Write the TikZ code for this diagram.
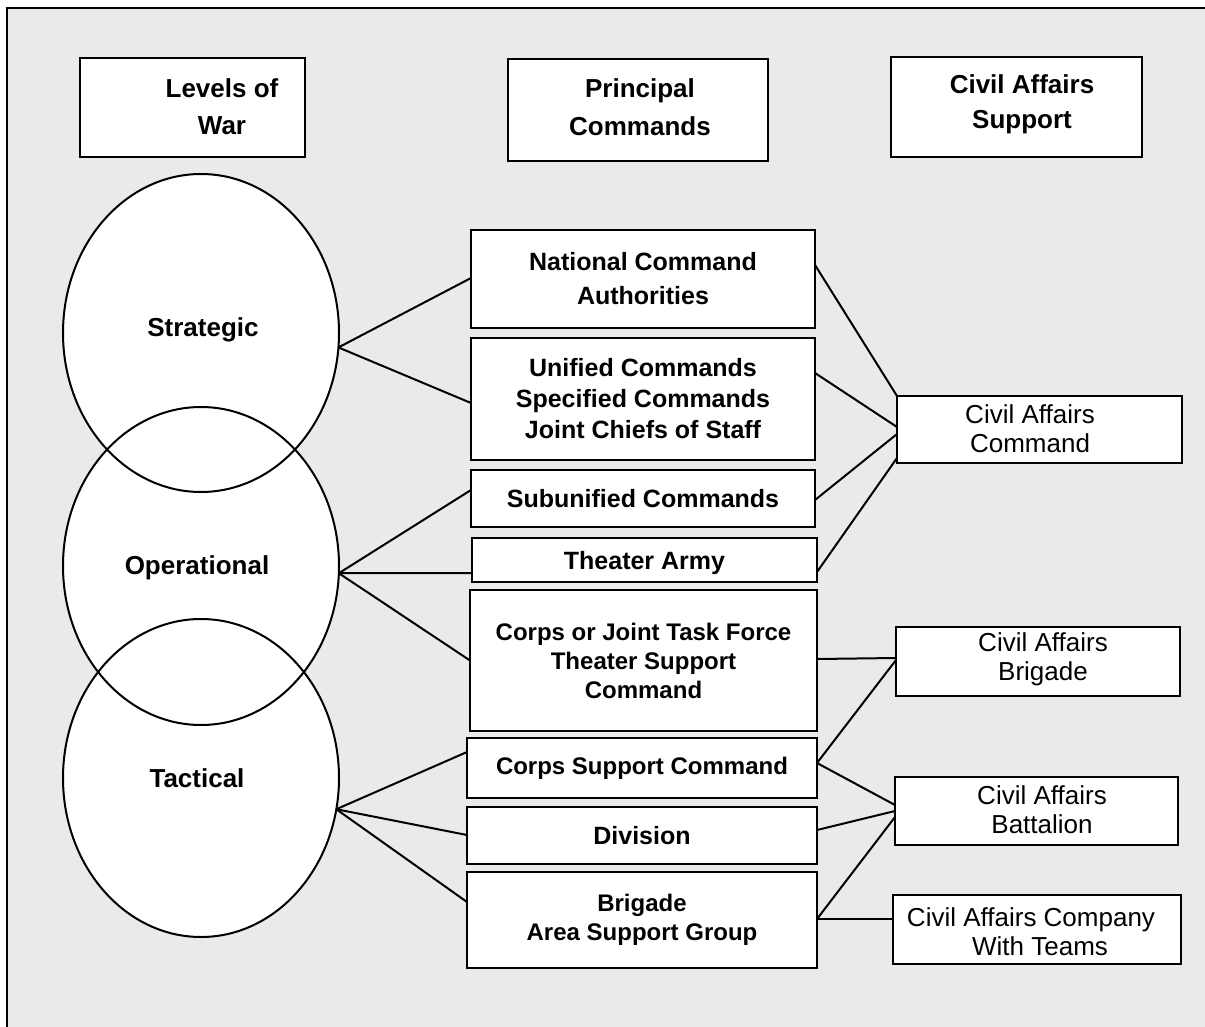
\documentclass[tikz,border=0pt]{standalone}
\usepackage{fontspec}
\setmainfont{Liberation Sans}
\usetikzlibrary{shapes.geometric}
\definecolor{panel}{RGB}{234,234,234}
\begin{document}
\begin{tikzpicture}[x=1pt,y=-1pt,
  box/.style={draw, fill=white, line width=2.6pt, rectangle, inner sep=0pt, outer sep=0pt, align=center},
  link/.style={line width=2pt},
  lvl/.style={draw, ellipse, line width=2pt, minimum width=276pt, minimum height=318pt, inner sep=0pt, outer sep=0pt,
              font=\fontsize{26}{30}\selectfont\bfseries},
  head/.style={align=center, font=\fontsize{26}{37}\selectfont\bfseries},
  cmdA/.style={font=\fontsize{25}{34}\selectfont\bfseries},
  cmdB/.style={font=\fontsize{25}{31}\selectfont\bfseries},
  cmdC/.style={font=\fontsize{24}{29}\selectfont\bfseries},
  ca/.style={align=center, font=\fontsize{26}{29}\selectfont}
]
\useasboundingbox (0,0) rectangle (1205,1027);
% panel, its frame showing on the left and top only
\fill[panel] (7,8) rectangle (1205,1027);
\draw[line width=2.6pt, line cap=rect] (7,1027) -- (7,8) -- (1205,8);

% column headings
\node[box, minimum width=225pt, minimum height=99pt] (lw) at (192.5,107.5) {};
\node[head] (lw-t) at (222,107) {Levels of\\War};
\node[box, minimum width=260pt, minimum height=102pt] (pc) at (638,110) {};
\node[head, font=\fontsize{26}{38}\selectfont\bfseries] (pc-t) at (640,107) {Principal\\Commands};
\node[box, minimum width=251pt, minimum height=100pt] (cas) at (1016.5,107) {};
\node[head, font=\fontsize{26}{35}\selectfont\bfseries] (cas-t) at (1022,104) {Civil Affairs\\Support};

% levels of war
\fill[white] (201,333) ellipse [x radius=138, y radius=159];
\fill[white] (201,566) ellipse [x radius=138, y radius=159];
\fill[white] (201,778) ellipse [x radius=138, y radius=159];
\node[lvl] (strat) at (201,333) {};
\node[lvl] (oper) at (201,566) {};
\node[lvl] (tact) at (201,778) {};
\node[font=\fontsize{26}{30}\selectfont\bfseries] (strat-t) at (203,330) {Strategic};
\node[font=\fontsize{26}{30}\selectfont\bfseries] (oper-t) at (197,568) {Operational};
\node[font=\fontsize{26}{30}\selectfont\bfseries] (tact-t) at (197,778) {Tactical};

% principal commands
\node[box, cmdA, minimum width=344pt, minimum height=98pt] (nca) at (643,279) {National Command\\Authorities};
\node[box, cmdB, minimum width=344pt, minimum height=122pt] (uni) at (643,399) {Unified Commands\\Specified Commands\\Joint Chiefs of Staff};
\node[box, cmdA, minimum width=344pt, minimum height=57pt] (sub) at (643,498.5) {Subunified Commands};
\node[box, cmdA, text depth=0pt, minimum width=345pt, minimum height=44pt] (tha) at (644.5,560) {Theater Army};
\node[box, cmdC, minimum width=347pt, minimum height=141pt] (cjt) at (643.5,660.5) {Corps or Joint Task Force\\Theater Support\\Command};
\node[box, cmdC, minimum width=350pt, minimum height=60pt] (csc) at (642,768) {Corps Support Command};
\node[box, cmdA, minimum width=350pt, minimum height=57pt] (div) at (642,835.5) {Division};
\node[box, cmdC, minimum width=350pt, minimum height=96pt] (bde) at (642,920) {Brigade\\Area Support Group};

% civil affairs support
\node[box, minimum width=285pt, minimum height=67pt] (cac) at (1039.5,429.5) {};
\node[ca] (cac-t) at (1030,429) {Civil Affairs\\Command};
\node[box, minimum width=284pt, minimum height=69pt] (cab) at (1038,661.5) {};
\node[ca] (cab-t) at (1043,659) {Civil Affairs\\Brigade};
\node[box, minimum width=283pt, minimum height=68pt] (cabn) at (1036.5,811) {};
\node[ca] (cabn-t) at (1042,810) {Civil Affairs\\Battalion};
\node[box, minimum width=288pt, minimum height=69pt] (cacy) at (1037,929.5) {};
\node[ca] (cacy-t) at (1040,932) {Civil Affairs Company\hspace*{18pt}\\With Teams};

% levels to commands
\draw[link] (strat.-6.6) -- ([yshift=1pt]nca.west);
\draw[link] (strat.-6.6) -- ([yshift=-4pt]uni.west);
\draw[link] (oper.-3) -- ([yshift=8.5pt]sub.west);
\draw[link] (oper.-3) -- ([yshift=-13pt]tha.west);
\draw[link] (oper.-3) -- (cjt.west);
\draw[link] (tact.-13) -- ([yshift=16pt]csc.west);
\draw[link] (tact.-13) -- ([yshift=0.5pt]div.west);
\draw[link] (tact.-13) -- ([yshift=18pt]bde.west);

% commands to civil affairs support
\draw[link] ([yshift=14pt]nca.east) -- (cac.north west);
\draw[link] ([yshift=26pt]uni.east) -- ([yshift=2.5pt]cac.west);
\draw[link] ([yshift=-1.5pt]sub.east) -- ([yshift=-4.5pt]cac.west);
\draw[link] ([yshift=-12pt]tha.east) -- ([yshift=-28.5pt]cac.west);
\draw[link] ([yshift=1.5pt]cjt.east) -- ([yshift=3.5pt]cab.west);
\draw[link] ([yshift=5pt]csc.east) -- ([yshift=1.5pt]cab.west);
\draw[link] ([yshift=5pt]csc.east) -- ([yshift=6pt]cabn.west);
\draw[link] ([yshift=5.5pt]div.east) -- (cabn.west);
\draw[link] ([yshift=1pt]bde.east) -- ([yshift=-6pt]cabn.west);
\draw[link] ([yshift=1pt]bde.east) -- ([yshift=10.5pt]cacy.west);
\end{tikzpicture}
\end{document}
